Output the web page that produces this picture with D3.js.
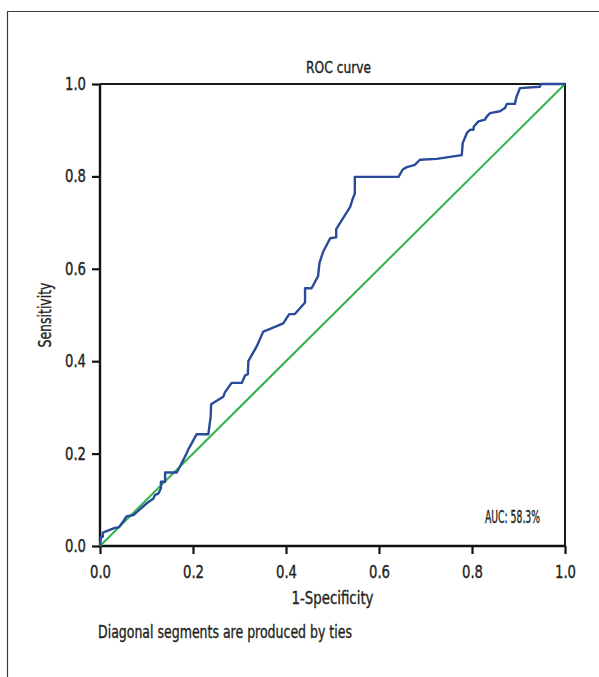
<!DOCTYPE html>
<html>
<head>
<meta charset="utf-8">
<script src="https://cdn.jsdelivr.net/npm/d3@7"></script>
<style>
  body { margin: 0; background: #fff; }
  svg text { font-family: "DejaVu Sans Condensed", "DejaVu Sans", sans-serif; font-stretch: condensed;
             fill: #231f20; stroke: #231f20; stroke-width: 0.35px; }
</style>
</head>
<body>
<div id="chart"></div>
<script>
const width = 599;
const height = 677;
const marginLeft = 100;
const marginRight = 34;
const marginTop = 84;
const marginBottom = 131;

// ROC curve points
const fpr = [0, 0.002, 0.006, 0.006, 0.032, 0.041, 0.05, 0.057, 0.072, 0.1, 0.115, 0.118, 0.126, 0.131, 0.131,
  0.14, 0.14, 0.165, 0.172, 0.186, 0.19, 0.208, 0.233, 0.238, 0.239, 0.265, 0.269, 0.283, 0.305, 0.312,
  0.318, 0.319, 0.337, 0.351, 0.366, 0.394, 0.407, 0.419, 0.441, 0.441, 0.455, 0.469, 0.472, 0.48, 0.495,
  0.508, 0.508, 0.538, 0.543, 0.548, 0.548, 0.642, 0.651, 0.66, 0.677, 0.688, 0.724, 0.778, 0.78, 0.789,
  0.796, 0.803, 0.804, 0.814, 0.828, 0.832, 0.839, 0.86, 0.871, 0.875, 0.892, 0.896, 0.903, 0.946, 0.948, 1];
const tpr = [0, 0.02, 0.02, 0.029, 0.039, 0.041, 0.053, 0.064, 0.067, 0.092, 0.103, 0.11, 0.114, 0.125, 0.139,
  0.139, 0.159, 0.159, 0.172, 0.2, 0.209, 0.242, 0.242, 0.28, 0.307, 0.323, 0.333, 0.353, 0.353, 0.369,
  0.372, 0.4, 0.432, 0.464, 0.47, 0.482, 0.502, 0.502, 0.527, 0.558, 0.558, 0.584, 0.613, 0.637, 0.666,
  0.668, 0.686, 0.734, 0.75, 0.763, 0.799, 0.799, 0.815, 0.82, 0.825, 0.836, 0.838, 0.846, 0.872, 0.894,
  0.901, 0.901, 0.908, 0.919, 0.923, 0.93, 0.937, 0.941, 0.948, 0.957, 0.957, 0.973, 0.991, 0.994, 1, 1];
const refLine = [0, 1];
const ticks = [0, 0.2, 0.4, 0.6, 0.8, 1.0];

const svg = d3.select("#chart").append("svg")
    .attr("width", width)
    .attr("height", height);

// outer frame (cropped figure box)
svg.append("path")
    .attr("d", `M7.5,${height} V11.5 H${width}`)
    .attr("fill", "none")
    .attr("stroke", "#3a3a3a")
    .attr("stroke-width", 1.2);

const x = d3.scaleLinear()
    .domain([0, 1])
    .range([marginLeft, width - marginRight]);

const y = d3.scaleLinear()
    .domain([0, 1])
    .range([height - marginBottom, marginTop]);

// top and right border of plot
svg.append("path")
    .attr("d", `M${x(0)},${y(1)} H${x(1)} V${y(0)}`)
    .attr("fill", "none")
    .attr("stroke", "#1a1a1a")
    .attr("stroke-width", 2);

const xAxis = svg.append("g")
    .attr("transform", `translate(0,${y(0)})`)
    .call(d3.axisBottom(x).tickValues(ticks).tickFormat(d3.format(".1f")).tickSize(8).tickPadding(12));

const yAxis = svg.append("g")
    .attr("transform", `translate(${x(0)},0)`)
    .call(d3.axisLeft(y).tickValues(ticks).tickFormat(d3.format(".1f")).tickSize(8).tickPadding(6));

[xAxis, yAxis].forEach(g => {
    g.select(".domain").attr("stroke", "#111").attr("stroke-width", 2.4);
    g.selectAll(".tick line").attr("stroke", "#111").attr("stroke-width", 2.2);
    g.selectAll(".tick text")
        .style("font-size", "17px")
        .attr("textLength", 21)
        .attr("lengthAdjust", "spacingAndGlyphs");
});
xAxis.select(".domain").attr("d", `M${x(0)},0H${x(1)}`);
yAxis.select(".domain").attr("d", `M0,${y(0)}V${y(1)}`);

// reference diagonal
svg.append("line")
    .attr("x1", x(refLine[0])).attr("y1", y(refLine[0]))
    .attr("x2", x(refLine[1])).attr("y2", y(refLine[1]))
    .attr("stroke", "#2fb34a")
    .attr("stroke-width", 2);

const line = d3.line()
    .x(i => x(fpr[i]))
    .y(i => y(tpr[i]));

svg.append("path")
    .datum(d3.range(fpr.length))
    .attr("d", line)
    .attr("fill", "none")
    .attr("stroke", "#2a4a9a")
    .attr("stroke-width", 2.4)
    .attr("stroke-linejoin", "round");

function label(txt, size, len) {
    return svg.append("text")
        .style("font-size", size + "px")
        .attr("textLength", len)
        .attr("lengthAdjust", "spacingAndGlyphs")
        .text(txt);
}

label("ROC curve", 16, 65)
    .attr("x", x(0.5) + 6)
    .attr("y", 73)
    .attr("text-anchor", "middle");

label("1-Specificity", 17, 82)
    .attr("x", x(0.5))
    .attr("y", 604)
    .attr("text-anchor", "middle");

label("Sensitivity", 17, 65)
    .attr("transform", `translate(51,${y(0.5)}) rotate(-90)`)
    .attr("text-anchor", "middle");

label("AUC: 58.3%", 17, 55)
    .attr("x", 485)
    .attr("y", 523);

label("Diagonal segments are produced by ties", 17, 254)
    .attr("x", 98)
    .attr("y", 638);
</script>
</body>
</html>
